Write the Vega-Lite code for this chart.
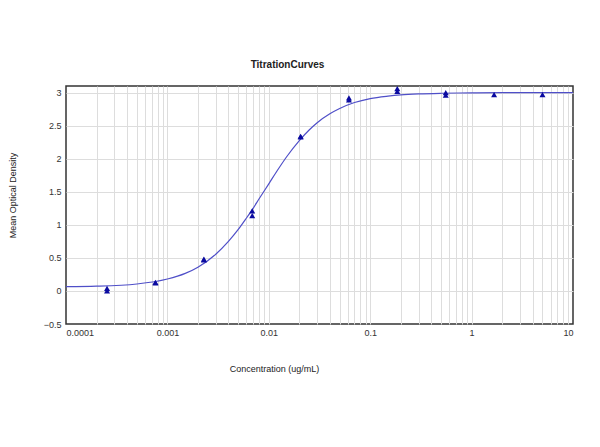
{
  "$schema": "https://vega.github.io/schema/vega-lite/v6.json",
  "width": 507,
  "height": 238,
  "autosize": {"type": "none"},
  "padding": {"left": 66, "top": 86, "right": 27, "bottom": 123},
  "background": "white",
  "config": {
    "font": "Liberation Sans",
    "view": {"stroke": "#333333", "strokeWidth": 1.5},
    "axis": {
      "labelFontSize": 9,
      "labelColor": "#333333",
      "titleFontSize": 9,
      "titleFontWeight": "normal",
      "titleColor": "#222222",
      "gridColor": "#dddddd",
      "gridWidth": 1,
      "domain": false,
      "ticks": false
    }
  },
  "title": {
    "text": "TitrationCurves",
    "fontSize": 10,
    "fontWeight": "bold",
    "color": "#222222",
    "dx": -32,
    "offset": 16
  },
  "datasets": {
    "curve": [
      {"conc": 0.0001, "od": 0.065},
      {"conc": 0.0002, "od": 0.072},
      {"conc": 0.0005, "od": 0.105},
      {"conc": 0.001, "od": 0.18},
      {"conc": 0.0015, "od": 0.266},
      {"conc": 0.002, "od": 0.36},
      {"conc": 0.003, "od": 0.556},
      {"conc": 0.004, "od": 0.75},
      {"conc": 0.005, "od": 0.93},
      {"conc": 0.006, "od": 1.1},
      {"conc": 0.007, "od": 1.25},
      {"conc": 0.008, "od": 1.39},
      {"conc": 0.01, "od": 1.62},
      {"conc": 0.012, "od": 1.81},
      {"conc": 0.015, "od": 2.03},
      {"conc": 0.02, "od": 2.275},
      {"conc": 0.025, "od": 2.435},
      {"conc": 0.03, "od": 2.545},
      {"conc": 0.04, "od": 2.68},
      {"conc": 0.05, "od": 2.76},
      {"conc": 0.07, "od": 2.85},
      {"conc": 0.1, "od": 2.91},
      {"conc": 0.15, "od": 2.947},
      {"conc": 0.2, "od": 2.965},
      {"conc": 0.3, "od": 2.98},
      {"conc": 0.5, "od": 2.99},
      {"conc": 1, "od": 2.996},
      {"conc": 2, "od": 3.0},
      {"conc": 5, "od": 3.0},
      {"conc": 10, "od": 3.0}
    ],
    "points": [
      {"conc": 0.000254, "od": 0.0},
      {"conc": 0.000254, "od": 0.04},
      {"conc": 0.000762, "od": 0.12},
      {"conc": 0.000762, "od": 0.13},
      {"conc": 0.00229, "od": 0.47},
      {"conc": 0.00229, "od": 0.48},
      {"conc": 0.00686, "od": 1.14},
      {"conc": 0.00686, "od": 1.21},
      {"conc": 0.0206, "od": 2.33},
      {"conc": 0.0206, "od": 2.34},
      {"conc": 0.0617, "od": 2.89},
      {"conc": 0.0617, "od": 2.92},
      {"conc": 0.185, "od": 3.02},
      {"conc": 0.185, "od": 3.06},
      {"conc": 0.556, "od": 2.96},
      {"conc": 0.556, "od": 3.0},
      {"conc": 1.667, "od": 2.97},
      {"conc": 5.0, "od": 2.97}
    ]
  },
  "encoding": {
    "x": {
      "field": "conc",
      "type": "quantitative",
      "scale": {"type": "log", "domain": [0.0001, 10], "nice": false},
      "axis": {
        "title": "Concentration (ug/mL)",
        "titleX": 208,
        "titleY": 40,
        "labelPadding": 4,
        "gridOpacity": {"condition": {"test": "datum.value < 0.00015 || datum.value > 9.5", "value": 0}, "value": 1},
        "values": [0.0001, 0.0002, 0.0003, 0.0004, 0.0005, 0.0006, 0.0007, 0.0008, 0.0009,
                   0.001, 0.002, 0.003, 0.004, 0.005, 0.006, 0.007, 0.008, 0.009,
                   0.01, 0.02, 0.03, 0.04, 0.05, 0.06, 0.07, 0.08, 0.09,
                   0.1, 0.2, 0.3, 0.4, 0.5, 0.6, 0.7, 0.8, 0.9,
                   1, 2, 3, 4, 5, 6, 7, 8, 9, 10],
        "labelExpr": "abs(log(datum.value) / LN10 - round(log(datum.value) / LN10)) < 0.001 ? format(datum.value, '~g') : ''",
        "labelOverlap": false
      }
    },
    "y": {
      "field": "od",
      "type": "quantitative",
      "scale": {"domain": [-0.5, 3.1], "nice": false, "zero": false},
      "axis": {
        "title": "Mean Optical Density",
        "titleX": -54,
        "titleY": 109,
        "titleBaseline": "middle",
        "gridOpacity": {"condition": {"test": "datum.value <= -0.49", "value": 0}, "value": 1},
        "values": [-0.5, 0, 0.5, 1, 1.5, 2, 2.5, 3],
        "format": "~g",
        "labelPadding": 5,
        "labelOverlap": false
      }
    }
  },
  "layer": [
    {
      "data": {"name": "curve"},
      "mark": {"type": "line", "color": "#4f4fc8", "strokeWidth": 1.2, "interpolate": "monotone", "clip": true}
    },
    {
      "data": {"name": "points"},
      "mark": {"type": "point", "shape": "triangle-up", "filled": true, "color": "#0a0aa0", "opacity": 1, "size": 36}
    }
  ]
}
